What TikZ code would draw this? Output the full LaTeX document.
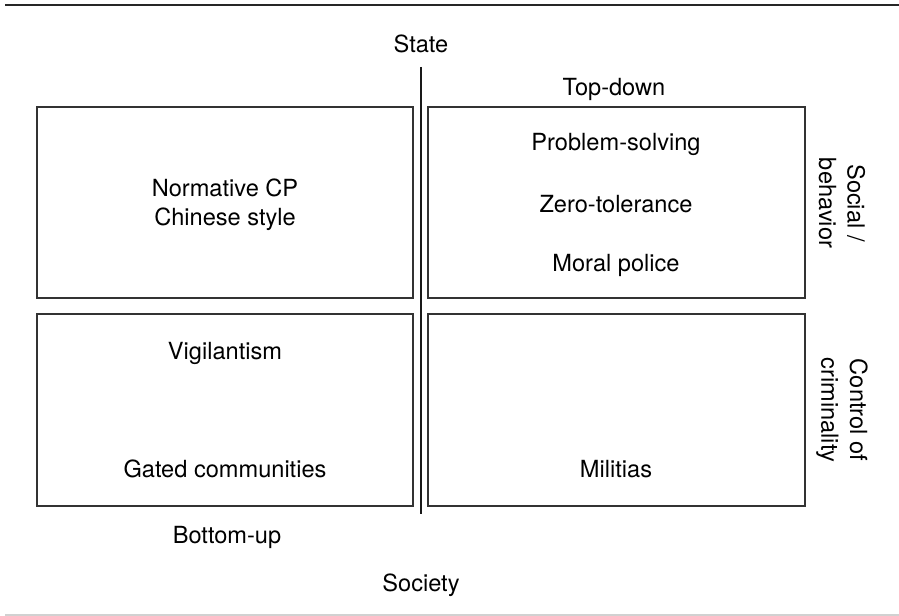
\documentclass[tikz,border=0pt]{standalone}
\usepackage{fontspec}
\setmainfont{TeX Gyre Heros}
\begin{document}
\begin{tikzpicture}[x=0.75pt,y=-0.75pt,every node/.style={font=\fontsize{17.7pt}{21.5pt}\selectfont}]
  \tikzstyle{quad}=[draw=black!80, line width=1.1pt, rectangle, inner sep=0pt, outer sep=0pt]
  \tikzstyle{axis}=[draw=black!90, line width=1.5pt]
  \tikzstyle{side}=[rotate=-90, align=center]

\useasboundingbox (0,0) rectangle (899,616);

% frame lines
\coordinate (tl) at (5,5);
\coordinate (tr) at (899,5);
\coordinate (bl) at (5,615);
\coordinate (br) at (899,615);
\draw[line width=1.5pt, black!85] (tl) -- (tr);
\draw[line width=1.1pt, black!18] (bl) -- (br);

% quadrants
\node [quad, minimum width=376*0.75pt, minimum height=191*0.75pt] (q1) at (225,202.5) {};
\node [quad, minimum width=377*0.75pt, minimum height=191*0.75pt] (q2) at (616.5,202.5) {};
\node [quad, minimum width=376*0.75pt, minimum height=192*0.75pt] (q3) at (225,410) {};
\node [quad, minimum width=377*0.75pt, minimum height=192*0.75pt] (q4) at (616.5,410) {};

% axis
\node (state) at (421,44) {State};
\node (society) at (421,585) {Society};
\coordinate (ax1) at (421,67);
\coordinate (ax2) at (421,514);
\draw[axis] (ax1) -- (ax2);

\node (top) at (614,89) {Top-down};
\node (bottom) at (227,537) {Bottom-up};

% contents
\node [align=center] (norm) at (225,204.5) {Normative CP\\Chinese style};
\node (prob) at (616,144) {Problem-solving};
\node (zero) at (616,204) {Zero-tolerance};
\node (moral) at (616,265) {Moral police};
\node (vigil) at (225,353) {Vigilantism};
\node (gated) at (225,469) {Gated communities};
\node (milit) at (616,469) {Militias};

% side labels
\node [side] (social) at (842,203) {Social /\\behavior};
\node [side] (crime) at (842,410) {Control of\\criminality};

\end{tikzpicture}
\end{document}
